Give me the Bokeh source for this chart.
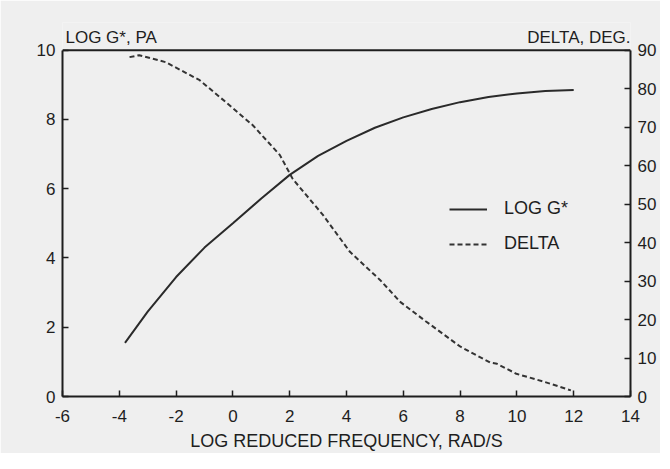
from bokeh.plotting import figure
from bokeh.models import Range1d, LinearAxis, Label, Legend, LegendItem, FixedTicker, Span
from bokeh.embed import file_html
from bokeh.resources import INLINE

# Data
freq_g = [-3.8, -3, -2, -1, 0, 1, 2, 3, 4, 5, 6, 7, 8, 9, 10, 11, 12]
log_g = [1.55, 2.45, 3.45, 4.3, 5.0, 5.72, 6.4, 6.95, 7.38, 7.76, 8.06, 8.3, 8.5, 8.65, 8.75, 8.82, 8.85]

freq_d = [-3.64, -3.3, -2.37, -1.17, -0.25, 0.7, 1.65, 2.11, 3.17, 4.12, 5.18, 5.89, 6.8, 8.0, 9.06, 9.3, 9.98, 10.93, 11.9]
delta = [88.2, 88.7, 86.9, 82.2, 76.5, 70.5, 62.8, 56.5, 47.2, 37.6, 30.3, 24.6, 19.5, 13.0, 8.8, 8.5, 5.9, 3.9, 1.6]

x_ticks = [-6, -4, -2, 0, 2, 4, 6, 8, 10, 12, 14]
y_ticks = [0, 2, 4, 6, 8, 10]
d_ticks = [0, 10, 20, 30, 40, 50, 60, 70, 80, 90]

FONT = "Liberation Sans"
INK = "#1e1e1e"
BG = "#efefef"

Y_TOP = 10.8  # frame extends above the plotted box to hold the axis titles

p = figure(width=660, height=453, output_backend="svg", toolbar_location=None,
           x_range=Range1d(-6, 14), y_range=Range1d(0, Y_TOP),
           min_border_left=62, min_border_right=30, min_border_top=22, min_border_bottom=50)
p.extra_y_ranges = {"delta": Range1d(0, Y_TOP * 9)}
p.background_fill_color = BG
p.border_fill_color = BG
p.outline_line_color = None
p.grid.visible = False

r_g = p.line(freq_g, log_g, line_color="#2a2a2a", line_width=2)
r_d = p.line(freq_d, delta, y_range_name="delta", line_color="#333333", line_width=2, line_dash="5 3")

right = LinearAxis(y_range_name="delta")
p.add_layout(right, "right")

for ax in [p.xaxis[0], p.yaxis[0], right]:
    ax.major_tick_in = 6
    ax.major_tick_out = 0
    ax.minor_tick_in = 0
    ax.minor_tick_out = 0
    ax.axis_line_color = INK
    ax.axis_line_width = 2
    ax.major_tick_line_color = INK
    ax.major_tick_line_width = 1.5
    ax.major_label_text_font = FONT
    ax.major_label_text_font_size = "17px"
    ax.major_label_text_color = INK

p.xaxis[0].ticker = FixedTicker(ticks=x_ticks)
p.xaxis[0].major_label_overrides = {t: str(t) for t in x_ticks}
p.yaxis[0].ticker = FixedTicker(ticks=y_ticks)
p.yaxis[0].bounds = (0, 10)
right.ticker = FixedTicker(ticks=d_ticks)
right.bounds = (0, 90)
p.yaxis[0].major_label_standoff = 7
right.major_label_standoff = 7
p.xaxis[0].major_label_standoff = 13

p.xaxis[0].axis_label = "LOG REDUCED FREQUENCY, RAD/S"
p.xaxis[0].axis_label_text_font = FONT
p.xaxis[0].axis_label_text_font_size = "18px"
p.xaxis[0].axis_label_text_font_style = "normal"
p.xaxis[0].axis_label_text_color = INK
p.xaxis[0].axis_label_standoff = 6

# top border of the plot box
p.add_layout(Span(location=10, dimension="width", line_color=INK, line_width=2))

p.add_layout(Label(x=-6, y=10, x_offset=3, y_offset=13, text="LOG G*, PA", text_font=FONT,
                   text_font_size="17px", text_color=INK, text_baseline="middle", text_align="left"))
p.add_layout(Label(x=14, y=10, x_offset=0, y_offset=13, text="DELTA, DEG.", text_font=FONT,
                   text_font_size="17px", text_color=INK, text_baseline="middle", text_align="right"))

legend = Legend(items=[LegendItem(label="LOG G*", renderers=[r_g]),
                       LegendItem(label="DELTA", renderers=[r_d])],
                location=(387, 142), orientation="vertical")
legend.background_fill_alpha = 0
legend.border_line_alpha = 0
legend.label_text_font = FONT
legend.label_text_font_size = "18px"
legend.label_text_color = INK
legend.glyph_width = 38
legend.glyph_height = 20
legend.label_standoff = 17
legend.spacing = 14
legend.padding = 0
legend.margin = 0
p.add_layout(legend)

open("out.html", "w").write(file_html(p, INLINE))
